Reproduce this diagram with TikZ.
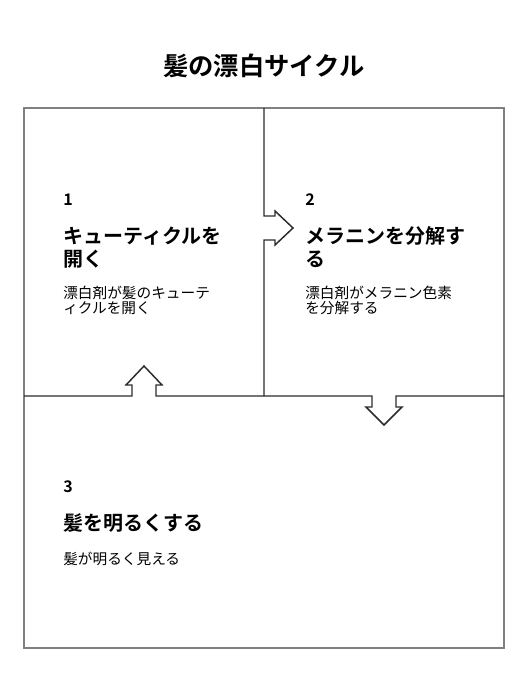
\documentclass[tikz,border=0pt]{standalone}
\usepackage{fontspec}
\setmainfont{Noto Sans CJK JP}[BoldFont={Noto Sans CJK JP Bold}]
\definecolor{framegray}{HTML}{808080}
\definecolor{linedark}{HTML}{2b2b2b}

\begin{document}
\begin{tikzpicture}[x=0.75pt, y=-0.75pt,
    stepnum/.style={anchor=base west, inner sep=0pt, font=\fontsize{12}{14}\selectfont\bfseries},
    stephead/.style={anchor=north west, inner sep=0pt, align=left, font=\fontsize{15}{17.25}\selectfont\bfseries},
    stepdesc/.style={anchor=north west, inner sep=0pt, align=left, font=\fontsize{11}{11.25}\selectfont},
    cycleline/.style={linedark, line width=1.1pt}]
    \useasboundingbox (0, 0) rectangle (528, 696);
    \node[inner sep=0pt, font=\fontsize{19}{21}\selectfont\bfseries] (title) at (264, 65.5) {髪の漂白サイクル};
    \draw[framegray, line width=1.1pt] (24, 108) rectangle (504, 648);
    % 1 -> 2
    \draw[cycleline] (264, 108) -- (264, 216) -- (275, 216) -- (275, 211) -- (293, 228)
        -- (275, 245) -- (275, 240) -- (264, 240) -- (264, 396);
    % 3 -> 1, 2 -> 3
    \draw[cycleline] (24, 396) -- (132, 396) -- (132, 385) -- (126, 385) -- (144, 366)
        -- (162, 385) -- (156, 385) -- (156, 396) -- (372, 396) -- (372, 407) -- (366, 407)
        -- (384, 425) -- (402, 407) -- (396, 407) -- (396, 396) -- (504, 396);
    % step 1
    \node[stepnum] (num1) at (63, 205) {1};
    \node[stephead] (head1) at (63, 226.7) {キューティクルを\\開く};
    \node[stepdesc] (desc1) at (63, 285.5) {漂白剤が髪のキューテ\\ィクルを開く};
    % step 2
    \node[stepnum] (num2) at (305, 205) {2};
    \node[stephead] (head2) at (305, 226.7) {メラニンを分解す\\る};
    \node[stepdesc] (desc2) at (305, 285.5) {漂白剤がメラニン色素\\を分解する};
    % step 3
    \node[stepnum] (num3) at (63, 492) {3};
    \node[stephead] (head3) at (63, 513) {髪を明るくする};
    \node[stepdesc] (desc3) at (63, 552) {髪が明るく見える};
\end{tikzpicture}
\end{document}
